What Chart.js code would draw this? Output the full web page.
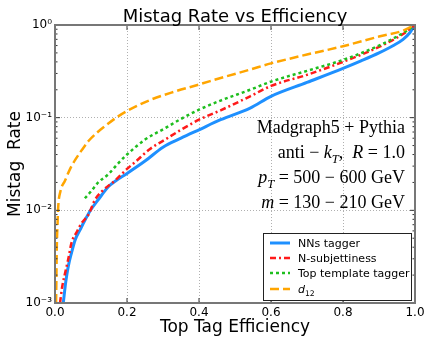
<!DOCTYPE html>
<html><head><meta charset="utf-8">
<script src="https://cdn.jsdelivr.net/npm/chart.js@4.4.1/dist/chart.umd.min.js"></script>
<style>html,body{margin:0;padding:0;background:#fff;}#wrap{width:432px;height:347px;}</style>
</head><body><div id="wrap"><canvas id="c" width="432" height="347"></canvas></div>
<script>
const chartTitle = 'Mistag Rate vs Efficiency';
const seriesNames = ['NNs tagger', 'N-subjettiness', 'Top template tagger', 'd12'];

const nnEff    = [0.023, 0.03, 0.037, 0.046, 0.056, 0.07, 0.083, 0.1, 0.12, 0.148, 0.17, 0.2, 0.25, 0.3, 0.35, 0.4, 0.46, 0.542, 0.6, 0.7, 0.8, 0.85, 0.9, 0.94, 0.967, 0.985, 1.0];
const nnMistag = [0.001, 0.0017, 0.0025, 0.0035, 0.0048, 0.0062, 0.0078, 0.0102, 0.013, 0.018, 0.021, 0.025, 0.034, 0.048, 0.06, 0.074, 0.095, 0.127, 0.17, 0.24, 0.34, 0.41, 0.5, 0.6, 0.7, 0.82, 1.0];

const nsubEff    = [0.014, 0.02, 0.028, 0.037, 0.046, 0.06, 0.074, 0.093, 0.111, 0.13, 0.167, 0.2, 0.222, 0.264, 0.306, 0.35, 0.4, 0.46, 0.542, 0.6, 0.7, 0.8, 0.9, 0.967, 1.0];
const nsubMistag = [0.001, 0.0015, 0.0021, 0.003, 0.0045, 0.0058, 0.0073, 0.009, 0.013, 0.016, 0.021, 0.028, 0.033, 0.046, 0.058, 0.074, 0.095, 0.12, 0.17, 0.22, 0.29, 0.40, 0.58, 0.8, 1.0];

const ttEff    = [0.083, 0.1, 0.12, 0.148, 0.175, 0.2, 0.25, 0.306, 0.35, 0.4, 0.46, 0.542, 0.6, 0.7, 0.8, 0.9, 0.967, 1.0];
const ttMistag = [0.0135, 0.016, 0.02, 0.0245, 0.032, 0.040, 0.058, 0.077, 0.097, 0.122, 0.153, 0.2, 0.245, 0.32, 0.42, 0.6, 0.82, 1.0];

const d12Eff    = [0.003, 0.004, 0.005, 0.007, 0.009, 0.015, 0.028, 0.042, 0.056, 0.075, 0.093, 0.115, 0.139, 0.17, 0.2, 0.264, 0.33, 0.4, 0.47, 0.542, 0.6, 0.7, 0.8, 0.9, 0.967, 1.0];
const d12Mistag = [0.001, 0.002, 0.004, 0.007, 0.011, 0.016, 0.021, 0.028, 0.035, 0.045, 0.056, 0.068, 0.081, 0.1, 0.118, 0.155, 0.19, 0.228, 0.275, 0.33, 0.385, 0.48, 0.59, 0.75, 0.87, 1.0];

const xTickValues = [0, 0.2, 0.4, 0.6, 0.8, 1.0];
const xTickLabels = ['0.0', '0.2', '0.4', '0.6', '0.8', '1.0'];
const yTickValues = [0.001, 0.01, 0.1, 1];
const yTickLabels = ['10\u207B\u00B3', '10\u207B\u00B2', '10\u207B\u00B9', '10\u2070'];

const annotationLines = [
  [['Madgraph5 + Pythia', 'r']],
  [['anti \u2212 ', 'r'], ['k', 'i'], ['T', 'sub-i'], [',  ', 'r'], ['R', 'i'], [' = 1.0', 'r']],
  [['p', 'i'], ['T', 'sub-i'], [' = 500 \u2212 600 GeV', 'r']],
  [['m', 'i'], [' = 130 \u2212 210 GeV', 'r']]
];
const legendLabels = [
  [['NNs tagger', 'r']],
  [['N-subjettiness', 'r']],
  [['Top template tagger', 'r']],
  [['d', 'i'], ['12', 'sub']]
];

const colors = ['#1e90ff', '#ff1a1a', '#1ebe1e', '#ffa500'];
const widths = [3, 2.5, 2.5, 2.5];
const dashes = [[], [6, 3, 2, 3], [3, 3], [9, 4]];

function pts(xs, ys) { return xs.map((v, i) => ({x: v, y: ys[i]})); }
const seriesData = [pts(nnEff, nnMistag), pts(nsubEff, nsubMistag), pts(ttEff, ttMistag), pts(d12Eff, d12Mistag)];

function drawSegs(ctx, segs, x, baseline, size, family, alignRight) {
  let w = 0;
  const parts = segs.map(([t, s]) => {
    const sub = s.indexOf('sub') >= 0;
    const it = s.indexOf('i') >= 0;
    const fs = sub ? size * 0.7 : size;
    const font = (it ? 'italic ' : '') + fs + 'px ' + family;
    ctx.font = font;
    const mw = ctx.measureText(t).width;
    w += mw;
    return {t, font, mw, dy: sub ? size * 0.25 : 0};
  });
  let xx = alignRight ? x - w : x;
  ctx.textAlign = 'left';
  ctx.textBaseline = 'alphabetic';
  parts.forEach(p => { ctx.font = p.font; ctx.fillText(p.t, xx, baseline + p.dy); xx += p.mw; });
}

const decor = {
  id: 'decor',
  afterDatasetsDraw(chart) {
    const {ctx, chartArea: a, scales: {x, y}} = chart;
    ctx.save();
    ctx.strokeStyle = '#333';
    ctx.lineWidth = 1;
    const seg = (x1, y1, x2, y2) => { ctx.beginPath(); ctx.moveTo(x1, y1); ctx.lineTo(x2, y2); ctx.stroke(); };
    xTickValues.forEach(v => {
      const px = x.getPixelForValue(v);
      seg(px, a.bottom, px, a.bottom - 5);
      seg(px, a.top, px, a.top + 5);
    });
    for (let d = -3; d <= 0; d++) {
      for (let k = 1; k <= 9; k++) {
        const v = k * Math.pow(10, d);
        if (v > 1.0001) break;
        const py = y.getPixelForValue(v);
        const len = k === 1 ? 5 : 2.5;
        seg(a.left, py, a.left + len, py);
        seg(a.right, py, a.right - len, py);
      }
    }
    ctx.strokeStyle = '#777';
    ctx.lineWidth = 2;
    ctx.strokeRect(a.left, a.top, a.right - a.left, a.bottom - a.top);
    ctx.restore();
  },
  afterDraw(chart) {
    const {ctx, chartArea: a} = chart;
    ctx.save();
    ctx.fillStyle = '#000';
    ctx.font = '18px "DejaVu Sans", sans-serif';
    ctx.textAlign = 'center';
    ctx.textBaseline = 'alphabetic';
    ctx.fillText(chartTitle, (a.left + a.right) / 2, 22);
    const baselines = [133, 158, 183, 208];
    annotationLines.forEach((segs, i) => drawSegs(ctx, segs, 405, baselines[i], 18, '"Liberation Serif", "DejaVu Serif", serif', true));
    // legend
    const lx = 263, ly = 233, lw = 148, lh = 67;
    ctx.fillStyle = '#fff';
    ctx.fillRect(lx, ly, lw, lh);
    ctx.strokeStyle = '#222';
    ctx.lineWidth = 1;
    ctx.strokeRect(lx + 0.5, ly + 0.5, lw, lh);
    const rows = [243, 258, 273, 289];
    legendLabels.forEach((segs, i) => {
      ctx.strokeStyle = colors[i];
      ctx.lineWidth = widths[i];
      ctx.setLineDash(dashes[i]);
      ctx.beginPath(); ctx.moveTo(270, rows[i]); ctx.lineTo(290, rows[i]); ctx.stroke();
      ctx.setLineDash([]);
      ctx.fillStyle = '#000';
      drawSegs(ctx, segs, 298, rows[i] + 4, 11, '"DejaVu Sans", sans-serif', false);
    });
    ctx.restore();
  }
};

new Chart(document.getElementById('c'), {
  type: 'line',
  data: {
    datasets: seriesData.map((d, i) => ({
      label: seriesNames[i],
      data: d,
      borderColor: colors[i],
      backgroundColor: colors[i],
      borderWidth: widths[i],
      borderDash: dashes[i],
      pointRadius: 0,
      fill: false,
      cubicInterpolationMode: 'monotone',
      order: 4 - i
    }))
  },
  options: {
    responsive: false,
    animation: false,
    devicePixelRatio: 1,
    layout: {padding: {left: 0, right: 17, top: 25, bottom: 0}},
    plugins: {
      legend: {display: false},
      tooltip: {enabled: false},
      title: {display: false}
    },
    scales: {
      x: {
        type: 'linear', min: 0, max: 1,
        afterBuildTicks: s => { s.ticks = xTickValues.map(v => ({value: v})); },
        afterFit: s => { s.height = 44; },
        ticks: {
          color: '#000', padding: 3,
          font: {family: '"DejaVu Sans", sans-serif', size: 12},
          callback: (v) => { const i = xTickValues.findIndex(t => Math.abs(t - v) < 1e-9); return i >= 0 ? xTickLabels[i] : ''; },
          maxRotation: 0
        },
        grid: {color: '#b0b0b0', lineWidth: 1, drawTicks: false},
        border: {display: false, dash: [1, 2]},
        title: {display: true, text: 'Top Tag Efficiency', color: '#000', font: {family: '"DejaVu Sans", sans-serif', size: 17}, padding: {top: 0, bottom: 9}}
      },
      y: {
        type: 'logarithmic', min: 0.001, max: 1,
        afterBuildTicks: s => { s.ticks = yTickValues.map(v => ({value: v})); },
        afterFit: s => { s.width = 55; },
        ticks: {
          color: '#000', padding: 3,
          font: {family: '"DejaVu Sans", sans-serif', size: 12},
          callback: (v) => { const i = yTickValues.findIndex(t => Math.abs(Math.log10(t) - Math.log10(v)) < 1e-6); return i >= 0 ? yTickLabels[i] : ''; }
        },
        grid: {color: '#b0b0b0', lineWidth: 1, drawTicks: false},
        border: {display: false, dash: [1, 2]},
        title: {display: true, text: 'Mistag  Rate', color: '#000', font: {family: '"DejaVu Sans", sans-serif', size: 17}, padding: {top: 5, bottom: 0}}
      }
    }
  },
  plugins: [decor]
});
</script></body></html>
